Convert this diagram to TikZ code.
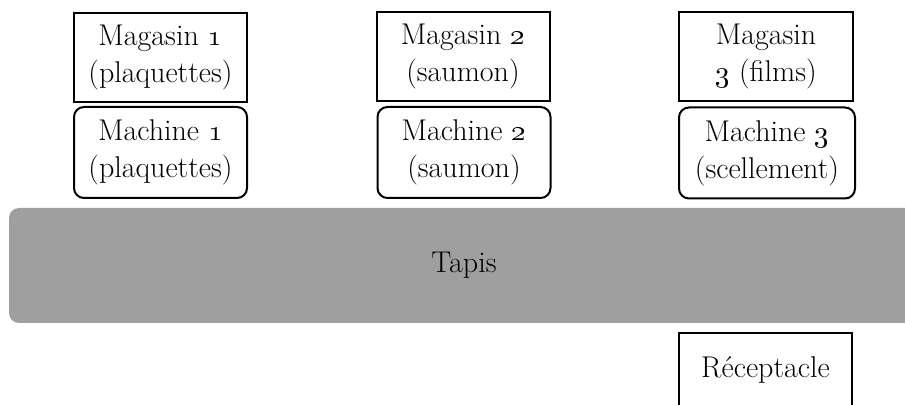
\RequirePackage{fix-cm}
\documentclass[tikz,border=0pt]{standalone}
\usetikzlibrary{positioning}
\definecolor{beltgray}{RGB}{159,159,159}
\newcommand{\osn}[1]{\oldstylenums{#1}}
\begin{document}
\begin{tikzpicture}[x=0.5pt,y=-0.5pt,
  every node/.style={font=\fontsize{15}{18.5}\selectfont, align=center, inner sep=0pt},
  storebox/.style={draw, line width=1pt, minimum width=86.5pt, minimum height=44.5pt},
  machinebox/.style={draw, line width=1pt, rounded corners=5pt, minimum width=86.5pt, minimum height=45.5pt},
  beltbox/.style={fill=beltgray, rounded corners=5pt, minimum width=455pt, minimum height=57.5pt},
  binbox/.style={draw, line width=1pt, minimum width=86.5pt, minimum height=37pt}]
  \useasboundingbox (0,0) rectangle (905,405);

  % storage units
  \node[storebox] (mag1) at (160.5,57.5) {Magasin \osn{1}\\(plaquettes)};
  \node[storebox] (mag2) at (463,56.5) {Magasin \osn{2}\\(saumon)};
  \node[storebox, minimum width=87pt] (mag3) at (766,57) {Magasin\\\osn{3} (films)};

  % machines
  \node[machinebox] (mac1) at (160.5,152.5) {Machine \osn{1}\\(plaquettes)};
  \node[machinebox] (mac2) at (464,152.5) {Machine \osn{2}\\(saumon)};
  \node[machinebox, minimum width=88pt] (mac3) at (767,153) {Machine \osn{3}\\(scellement)};

  % conveyor belt
  \node[beltbox] (tapis) at (464,265.5) {Tapis};

  % output bin
  \node[binbox] (recep) at (765.5,370) {Réceptacle};
\end{tikzpicture}
\end{document}
